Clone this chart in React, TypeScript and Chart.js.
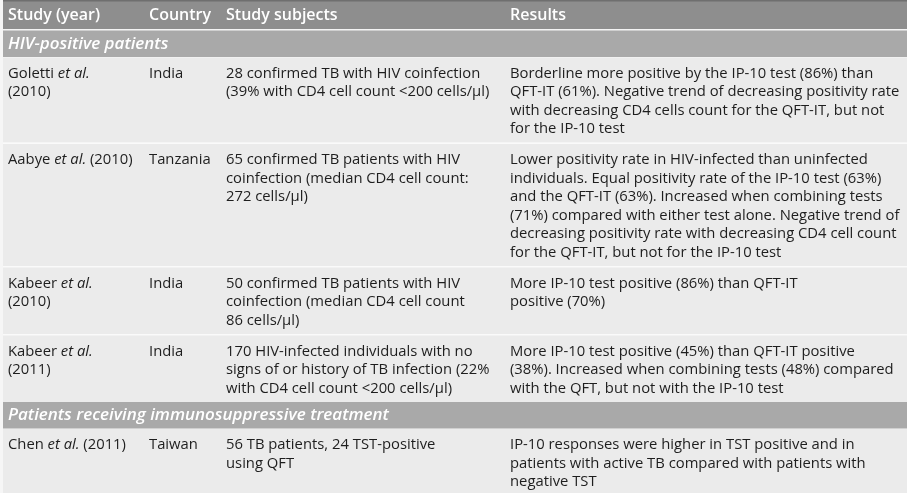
import React, { useEffect, useRef } from "react";
import { Chart, registerables } from "chart.js";
Chart.register(...registerables);

// ---- data (text content of the table) ----
const headers = ["Study (year)", "Country", "Study subjects", "Results"];
const sections = ["HIV-positive patients", "Patients receiving immunosuppressive treatment"];
const rowSection = [0, 0, 0, 0, 1];
const studies: string[][] = [
  ["Goletti *et al.*", "(2010)"],
  ["Aabye *et al.* (2010)"],
  ["Kabeer *et al.*", "(2010)"],
  ["Kabeer *et al.*", "(2011)"],
  ["Chen *et al.* (2011)"],
];
const countries: string[][] = [["India"], ["Tanzania"], ["India"], ["India"], ["Taiwan"]];
const subjects: string[][] = [
  ["28 confirmed TB with HIV coinfection", "(39% with CD4 cell count <200 cells/µl)"],
  ["65 confirmed TB patients with HIV", "coinfection (median CD4 cell count:", "272 cells/µl)"],
  ["50 confirmed TB patients with HIV", "coinfection (median CD4 cell count", "86 cells/µl)"],
  ["170 HIV-infected individuals with no", "signs of or history of TB infection (22%", "with CD4 cell count <200 cells/µl)"],
  ["56 TB patients, 24 TST-positive", "using QFT"],
];
const results: string[][] = [
  [
    "Borderline more positive by the IP-10 test (86%) than",
    "QFT-IT (61%). Negative trend of decreasing positivity rate",
    "with decreasing CD4 cells count for the QFT-IT, but not",
    "for the IP-10 test",
  ],
  [
    "Lower positivity rate in HIV-infected than uninfected",
    "individuals. Equal positivity rate of the IP-10 test (63%)",
    "and the QFT-IT (63%). Increased when combining tests",
    "(71%) compared with either test alone. Negative trend of",
    "decreasing positivity rate with decreasing CD4 cell count",
    "for the QFT-IT, but not for the IP-10 test",
  ],
  ["More IP-10 test positive (86%) than QFT-IT", "positive (70%)"],
  [
    "More IP-10 test positive (45%) than QFT-IT positive",
    "(38%). Increased when combining tests (48%) compared",
    "with the QFT, but not with the IP-10 test",
  ],
  [
    "IP-10 responses were higher in TST positive and in",
    "patients with active TB compared with patients with",
    "negative TST",
  ],
];

// ---- layout / style ----
const W = 907;
const H = 493;
const COLS = [8, 149, 226, 510];
const FONT = '"Open Sans", "Noto Sans", sans-serif';
const SIZE = 14.8;
const HEAD_SIZE = 16;
const SEC_SIZE = 17;
const LINE = 18.5;
const TEXT = "#1e1e1e";

function drawRich(ctx: CanvasRenderingContext2D, s: string, x: number, y: number, size: number) {
  const parts = s.split("*");
  let cx = x;
  parts.forEach((p, i) => {
    if (!p) return;
    ctx.font = `${i % 2 ? "italic " : ""}${size}px ${FONT}`;
    ctx.fillText(p, cx, y);
    cx += ctx.measureText(p).width;
  });
}

const tablePlugin = {
  id: "tablePlugin",
  beforeDraw(chart: any) {
    const ctx: CanvasRenderingContext2D = chart.ctx;
    const xs = chart.scales.x;
    const ys = chart.scales.y;
    const X = (v: number) => xs.getPixelForValue(v);
    const Y = (v: number) => ys.getPixelForValue(v);
    const band = (y0: number, y1: number, color: string, x0 = 3) => {
      ctx.fillStyle = color;
      ctx.fillRect(X(x0), Y(y0), X(W) - X(x0), Y(y1) - Y(y0));
    };
    ctx.save();
    ctx.fillStyle = "#f6f6f6";
    ctx.fillRect(0, 0, X(W), Y(H));
    ctx.textBaseline = "middle";

    // header
    band(0, 29, "#8e8e8e");
    band(0, 1.5, "#6f6f6f");
    ctx.fillStyle = "#ffffff";
    ctx.font = `600 ${HEAD_SIZE}px ${FONT}`;
    headers.forEach((h, i) => ctx.fillText(h, X(COLS[i]), Y(15)));
    band(29, 30.5, "#f4f4f4");

    let y = 30.5;
    let currentSection = -1;
    rowSection.forEach((sec, r) => {
      if (sec !== currentSection) {
        currentSection = sec;
        band(y, y + 26.5, "#a9a9a9");
        ctx.fillStyle = "#ffffff";
        ctx.font = `italic 600 ${SEC_SIZE}px ${FONT}`;
        ctx.fillText(sections[sec], X(COLS[0]), Y(y + 13.5));
        y += 27;
      }
      const cells = [studies[r], countries[r], subjects[r], results[r]];
      const n = Math.max(...cells.map((c) => c.length));
      const h = 29.5 + (n - 1) * LINE;
      band(y, y + h, "#ebebeb");
      cells.forEach((lines, ci) => {
        lines.forEach((ln, li) => {
          ctx.fillStyle = TEXT;
          drawRich(ctx, ln, X(COLS[ci]), Y(y + 16 + li * LINE), SIZE);
        });
      });
      y += h;
      if (r < rowSection.length - 1 && rowSection[r + 1] === sec) {
        band(y, y + 1.5, "#fafafa");
        y += 1.5;
      }
    });
    ctx.restore();
  },
};

export default function App() {
  const ref = useRef<HTMLCanvasElement>(null);
  useEffect(() => {
    document.body.style.margin = "0";
    const chart = new Chart(ref.current as HTMLCanvasElement, {
      type: "scatter",
      data: { datasets: [] },
      options: {
        animation: false,
        responsive: false,
        devicePixelRatio: 1,
        events: [],
        layout: { padding: 0 },
        plugins: { legend: { display: false }, tooltip: { enabled: false } },
        scales: {
          x: { type: "linear", min: 0, max: W, display: false },
          y: { type: "linear", min: 0, max: H, reverse: true, display: false },
        },
      },
      plugins: [tablePlugin],
    });
    return () => chart.destroy();
  }, []);
  return <canvas ref={ref} width={W} height={H} style={{ display: "block" }} />;
}
